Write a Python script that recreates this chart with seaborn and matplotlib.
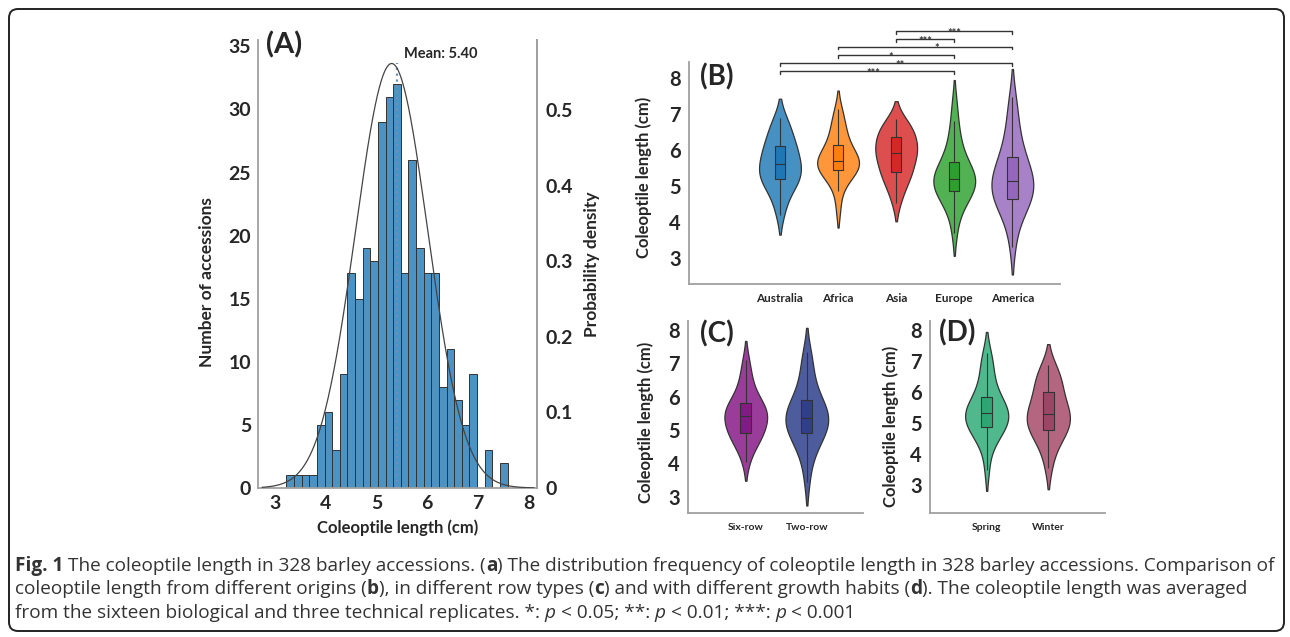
import numpy as np
import pandas as pd
import matplotlib
matplotlib.use("Agg")
import matplotlib.pyplot as plt
import seaborn as sns
from matplotlib.patches import FancyBboxPatch
from matplotlib.transforms import IdentityTransform

# ---- panel A: histogram (bin counts)
hist_start = 3.23
hist_width = 0.15
hist_counts = [1, 1, 1, 1, 5, 6, 3, 9, 17, 15, 19, 18, 29, 31, 32, 17,
               26, 19, 17, 17, 8, 11, 7, 5, 9, 0, 3, 0, 2]
mean_len = 5.40
fit_mu = 5.30
fit_sd = 0.71

# ---- panel B: origin
origins = ["Australia", "Africa", "Asia", "Europe", "America"]
australia = [4.2, 4.5, 4.75, 4.92, 5.03, 5.12, 5.19, 5.25, 5.3, 5.35, 5.42, 5.5, 5.60,
             5.68, 5.75, 5.85, 5.92, 6.0, 6.11, 6.2, 6.3, 6.45, 6.6, 6.75, 6.87]
africa = [4.35, 4.85, 5.1, 5.25, 5.35, 5.4, 5.44, 5.5, 5.55, 5.6, 5.63, 5.66, 5.68,
          5.72, 5.78, 5.85, 5.95, 6.05, 6.13, 6.25, 6.4, 6.55, 6.7, 6.9, 7.14]
asia = [4.52, 4.8, 5.0, 5.15, 5.25, 5.33, 5.39, 5.5, 5.6, 5.7, 5.8, 5.86, 5.92,
        5.98, 6.03, 6.1, 6.18, 6.27, 6.35, 6.42, 6.5, 6.58, 6.66, 6.75, 6.85]
europe = [3.7, 4.2, 4.45, 4.6, 4.72, 4.8, 4.85, 4.92, 5.0, 5.07, 5.12, 5.16, 5.20,
          5.25, 5.3, 5.37, 5.45, 5.55, 5.66, 5.8, 6.0, 6.2, 6.45, 6.8, 7.3]
america = [3.32, 3.9, 4.2, 4.4, 4.5, 4.58, 4.65, 4.75, 4.85, 4.93, 5.0, 5.08, 5.15,
           5.22, 5.3, 5.4, 5.52, 5.65, 5.80, 5.95, 6.15, 6.4, 6.7, 7.05, 7.47]

# significance brackets (group a, group b, height, label, label x)
sig_pairs = [("Asia", "America", 9.29, "***", 3.0),
             ("Asia", "Europe", 9.07, "***", 2.5),
             ("Africa", "America", 8.86, "*", 2.7),
             ("Africa", "Europe", 8.63, "*", 1.9),
             ("Australia", "America", 8.40, "**", 2.07),
             ("Australia", "Europe", 8.18, "***", 1.6)]

# ---- panel C: row type
row_types = ["Six-row", "Two-row"]
six_row = [4.05, 4.4, 4.6, 4.72, 4.8, 4.86, 4.9, 5.0, 5.12, 5.22, 5.3, 5.37, 5.43,
           5.48, 5.53, 5.58, 5.65, 5.72, 5.8, 5.9, 6.05, 6.25, 6.45, 6.75, 7.1]
two_row = [3.45, 4.05, 4.35, 4.55, 4.7, 4.82, 4.9, 5.0, 5.1, 5.18, 5.25, 5.31, 5.37,
           5.43, 5.5, 5.58, 5.67, 5.78, 5.9, 6.02, 6.2, 6.45, 6.75, 7.05, 7.35]

# ---- panel D: growth habit
habits = ["Spring", "Winter"]
spring = [3.5, 4.2, 4.45, 4.62, 4.74, 4.82, 4.88, 4.98, 5.07, 5.15, 5.22, 5.27, 5.31,
          5.36, 5.42, 5.5, 5.6, 5.72, 5.85, 6.0, 6.2, 6.45, 6.75, 7.0, 7.25]
winter = [3.54, 4.0, 4.3, 4.5, 4.62, 4.71, 4.77, 4.88, 4.98, 5.08, 5.15, 5.22, 5.28,
          5.36, 5.45, 5.55, 5.68, 5.83, 6.0, 6.12, 6.25, 6.4, 6.55, 6.7, 6.87]

violin_b = ["#4790c2", "#ff9639", "#dd4e4f", "#52b152", "#a782c9"]
box_b = ["#1f77b4", "#ff7f0e", "#d62728", "#2ca02c", "#9467bd"]
violin_c = ["#9a3d9a", "#4d5c9c"]
box_c = ["#841a84", "#2f3f88"]
violin_d = ["#4fb88c", "#b4657f"]
box_d = ["#2ea673", "#9e4566"]

sns.set_style("white")
plt.rcParams["font.family"] = ["Lato", "DejaVu Sans"]
plt.rcParams["font.weight"] = "bold"
plt.rcParams["axes.labelweight"] = "bold"

W, H = 1290, 637
fig = plt.figure(figsize=(W / 100, H / 100), dpi=100)
spine_col = "#a0a0a0"


def px_axes(left, top, right, bottom):
    return fig.add_axes([left / W, 1 - bottom / H, (right - left) / W, (bottom - top) / H])


def fig_text(x, y, s, **kw):
    return fig.text(x / W, 1 - y / H, s, **kw)


def long_df(names, groups):
    return pd.DataFrame({"group": np.repeat(names, [len(g) for g in groups]),
                         "length": np.concatenate(groups)})


def violin_panel(ax, df, names, vcols, bcols, xlim, ylim, width, mid_tick):
    sns.violinplot(data=df, x="group", y="length", hue="group", order=names,
                   hue_order=names, palette=vcols, inner=None, density_norm="width",
                   width=width, cut=1.5, linewidth=0.9, linecolor="#333333", saturation=1,
                   legend=False, ax=ax)
    sns.boxplot(data=df, x="group", y="length", hue="group", order=names,
                hue_order=names, palette=bcols, width=0.18, showfliers=False,
                showcaps=False, linewidth=0.8, linecolor="#333333", saturation=1,
                legend=False, ax=ax)
    ax.set_xlim(*xlim)
    ax.set_ylim(*ylim)
    ax.set_yticks([3, 4, 5, 6, 7, 8])
    ax.set_xlabel("")
    ax.tick_params(axis="y", length=0, pad=6, labelsize=14.5)
    ax.tick_params(axis="x", which="major", length=0)
    ax.set_xticks([mid_tick], minor=True)
    ax.tick_params(axis="x", which="minor", length=2.5, width=0.8, color="#888888")
    for side in ["top", "right"]:
        ax.spines[side].set_visible(False)
    for side in ["left", "bottom"]:
        ax.spines[side].set_color(spine_col)
        ax.spines[side].set_linewidth(1.3)


# ---------------- panel A
axA = px_axes(258, 40, 537, 488)
hist_df = pd.DataFrame({"length": hist_start + hist_width * (np.arange(len(hist_counts)) + 0.5),
                        "count": hist_counts})
sns.histplot(data=hist_df, x="length", weights="count", binwidth=hist_width,
             binrange=(hist_start, hist_start + hist_width * len(hist_counts)),
             color="#1f77b4", alpha=0.8, edgecolor="#333333", linewidth=0.7, ax=axA)
axA.vlines(mean_len, 0, 33.7, colors="#6f8fb5", linestyles=":", linewidth=1.6)
axA.set_xlim(2.67, 8.16)
axA.set_ylim(0, 35.5)
axA.set_xticks(range(3, 9))
axA.set_yticks(range(0, 36, 5))
axA.tick_params(length=0, labelsize=14, pad=5)
axA.set_xlabel("Coleoptile length (cm)", fontsize=12)
axA.set_ylabel("Number of accessions", fontsize=12.5)
axA.yaxis.set_label_coords(-0.154, 0.46)
axA.xaxis.set_label_coords(0.5, -0.07)
axA.spines["top"].set_visible(False)
for side in ["left", "right", "bottom"]:
    axA.spines[side].set_color(spine_col)
    axA.spines[side].set_linewidth(1.3)

axA2 = axA.twinx()
xs = np.linspace(2.75, 8.1, 400)
pdf = np.exp(-0.5 * ((xs - fit_mu) / fit_sd) ** 2) / (fit_sd * np.sqrt(2 * np.pi))
sns.lineplot(x=xs, y=pdf, color="#444444", linewidth=0.9, ax=axA2)
axA2.set_ylim(0, 0.593)
axA2.set_yticks([0, 0.1, 0.2, 0.3, 0.4, 0.5])
axA2.set_yticklabels(["0", "0.1", "0.2", "0.3", "0.4", "0.5"])
axA2.tick_params(length=0, labelsize=14, pad=6)
axA2.set_ylabel("Probability density", fontsize=12.5)
axA2.yaxis.set_label_coords(1.17, 0.5)
for side in ["top", "left", "bottom"]:
    axA2.spines[side].set_visible(False)
axA2.spines["right"].set_color(spine_col)
axA2.spines["right"].set_linewidth(1.3)

fig_text(284, 45, "(A)", fontsize=21, ha="center", va="center")
fig_text(441, 54, "Mean: 5.40", fontsize=10.5, ha="center", va="center")

# ---------------- panel B
axB = px_axes(689, 61.7, 1060, 284.3)
dfB = long_df(origins, [australia, africa, asia, europe, america])
violin_panel(axB, dfB, origins, violin_b, box_b, (-1.566, 4.82), (2.28, 8.44), 0.72, 2)
axB.tick_params(axis="x", which="major", labelsize=8.5, pad=6)
axB.set_ylabel("Coleoptile length (cm)", fontsize=12)
axB.yaxis.set_label_coords(-0.10, 0.48)
for a, b, yv, lab, lx in sig_pairs:
    i, j = origins.index(a), origins.index(b)
    axB.plot([i, i, j, j], [yv - 0.08, yv, yv, yv - 0.08], color="#333333",
             linewidth=1.0, clip_on=False)
    axB.text(lx, yv - 0.16, lab, ha="center", va="baseline", fontsize=8,
             color="#333333", clip_on=False)
fig_text(717, 77, "(B)", fontsize=20, ha="center", va="center")

# ---------------- panel C
axC = px_axes(688, 320.7, 863, 513.3)
dfC = long_df(row_types, [six_row, two_row])
violin_panel(axC, dfC, row_types, violin_c, box_c, (-0.946, 1.92), (2.5, 8.28), 0.7, 0.6)
axC.tick_params(axis="x", which="major", labelsize=7.5, pad=7)
axC.set_ylabel("Coleoptile length (cm)", fontsize=12)
axC.yaxis.set_label_coords(-0.194, 0.47)
fig_text(717, 334, "(C)", fontsize=20, ha="center", va="center")

# ---------------- panel D
axD = px_axes(930, 320.7, 1105, 513.3)
dfD = long_df(habits, [spring, winter])
violin_panel(axD, dfD, habits, violin_d, box_d, (-0.92, 1.92), (2.09, 8.3), 0.7, 0.5)
axD.tick_params(axis="x", which="major", labelsize=7.5, pad=7)
axD.set_ylabel("Coleoptile length (cm)", fontsize=12)
axD.yaxis.set_label_coords(-0.177, 0.45)
fig_text(957, 333, "(D)", fontsize=20, ha="center", va="center")

# ---------------- caption
cap_family = ["Open Sans", "DejaVu Sans"]
cap_color = "#333333"
caption = [
    [("Fig. 1", "bold", "normal"),
     (" The coleoptile length in 328 barley accessions. (", "normal", "normal"),
     ("a", "bold", "normal"),
     (") The distribution frequency of coleoptile length in 328 barley accessions. Comparison of",
      "normal", "normal")],
    [("coleoptile length from different origins (", "normal", "normal"),
     ("b", "bold", "normal"),
     ("), in different row types (", "normal", "normal"),
     ("c", "bold", "normal"),
     (") and with different growth habits (", "normal", "normal"),
     ("d", "bold", "normal"),
     ("). The coleoptile length was averaged", "normal", "normal")],
    [("from the sixteen biological and three technical replicates. *: ", "normal", "normal"),
     ("p", "normal", "italic"),
     (" < 0.05; **: ", "normal", "normal"),
     ("p", "normal", "italic"),
     (" < 0.01; ***: ", "normal", "normal"),
     ("p", "normal", "italic"),
     (" < 0.001", "normal", "normal")],
]
renderer = fig.canvas.get_renderer()


def text_w(s, size, weight, style):
    t = fig.text(0, 0, s, fontsize=size, fontweight=weight, fontstyle=style, family=cap_family)
    w = t.get_window_extent(renderer).width
    t.remove()
    return w


def rich_line(pieces, x0, y0, size, draw=True):
    x = x0
    sp = text_w("a a", size, "normal", "normal") - text_w("aa", size, "normal", "normal")
    for s, weight, style in pieces:
        core = s.strip(" ")
        lead = len(s) - len(s.lstrip(" "))
        trail = len(s) - len(s.rstrip(" "))
        x += lead * sp
        if draw:
            fig_text(x, y0, core, fontsize=size, fontweight=weight, fontstyle=style,
                     family=cap_family, color=cap_color, ha="left", va="baseline")
        x += text_w(core, size, weight, style) + trail * sp
    return x


base = 12.0
line_w = rich_line(caption[0], 0, 0, base, draw=False)
cap_size = base * (1268 - 15) / line_w
for k, line in enumerate(caption):
    rich_line(line, 15, 571 + 23.5 * k, cap_size)

# rounded frame around everything
frame = FancyBboxPatch((9, 6), 1275, 622, boxstyle="round,pad=0,rounding_size=9",
                       transform=IdentityTransform(), fill=False, edgecolor="#222222",
                       linewidth=1.4)
fig.patches.append(frame)

fig.savefig("out.png", dpi=100)
